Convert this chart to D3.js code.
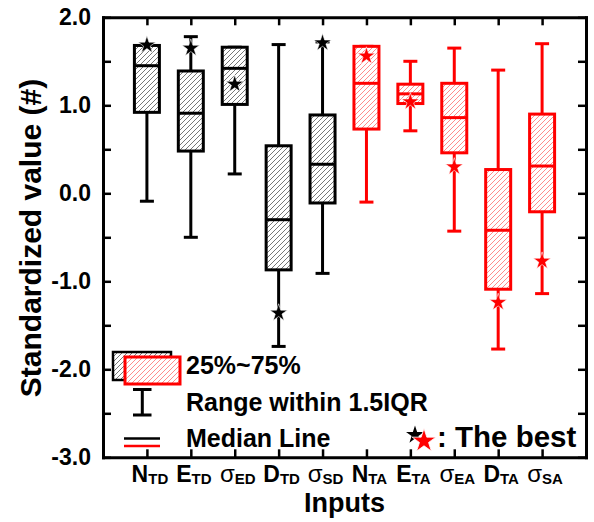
<!DOCTYPE html>
<html>
<head>
<meta charset="utf-8">
<script src="https://cdn.jsdelivr.net/npm/d3@7"></script>
<style>
  body { margin: 0; background: #fff; }
  svg { display: block; font-family: "Liberation Sans", Arial, sans-serif; }
</style>
</head>
<body>
<div id="root"></div>
<script>
// inputs on the x axis: main letter + subscript
const mains = ['N', 'E', 'σ', 'D', 'σ', 'N', 'E', 'σ', 'D', 'σ'];
const subs = ['TD', 'TD', 'ED', 'TD', 'SD', 'TA', 'TA', 'EA', 'TA', 'SA'];
// first five are black (TD), last five red (TA)
const groups = ['TD', 'TD', 'TD', 'TD', 'TD', 'TA', 'TA', 'TA', 'TA', 'TA'];

// box plot statistics
const whiskerLow = [-0.09, -0.50, 0.22, -1.74, -0.91, -0.10, 0.71, -0.43, -1.77, -1.14];
const q1 = [0.92, 0.48, 1.01, -0.87, -0.11, 0.73, 1.02, 0.46, -1.09, -0.21];
const median = [1.45, 0.91, 1.42, -0.30, 0.33, 1.25, 1.13, 0.86, -0.42, 0.31];
const q3 = [1.68, 1.39, 1.66, 0.54, 0.89, 1.67, 1.24, 1.25, 0.27, 0.90];
const whiskerHigh = [1.68, 1.78, 1.66, 1.69, 1.72, 1.67, 1.50, 1.65, 1.40, 1.70];
const best = [1.685, 1.65, 1.24, -1.36, 1.71, 1.56, 1.04, 0.30, -1.24, -0.77];

const yTicks = [-3, -2.5, -2, -1.5, -1, -0.5, 0, 0.5, 1, 1.5, 2];

const width = 594;
const height = 522;
const margin = { top: 17.3, right: 8, bottom: 64.7, left: 103 };

const colors = { TD: '#000', TA: '#ff0000' };

const data = mains.map((m, i) => ({
  main: m,
  sub: subs[i],
  group: groups[i],
  low: whiskerLow[i],
  q1: q1[i],
  median: median[i],
  q3: q3[i],
  high: whiskerHigh[i],
  best: best[i],
  pos: i + 1,
}));

const svg = d3.select('#root')
  .append('svg')
  .attr('width', width)
  .attr('height', height);

const defs = svg.append('defs');
function hatch(id, color) {
  const p = defs.append('pattern')
    .attr('id', id)
    .attr('patternUnits', 'userSpaceOnUse')
    .attr('width', 5)
    .attr('height', 5);
  p.append('rect').attr('width', 5).attr('height', 5).attr('fill', '#fff');
  p.append('path')
    .attr('d', 'M-1,1 l2,-2 M0,5 l5,-5 M4,6 l2,-2')
    .attr('stroke', color)
    .attr('stroke-width', 1);
}
hatch('hatch-TD', '#777');
hatch('hatch-TA', '#ff8c8c');

const x = d3.scaleLinear().domain([0, 11]).range([margin.left, width - margin.right]);
const y = d3.scaleLinear().domain([-3, 2]).range([height - margin.bottom, margin.top]);

const boxW = 25;
const capW = 14;

// whiskers
const boxes = svg.append('g')
  .selectAll('g.box')
  .data(data)
  .join('g')
  .attr('class', 'box');

boxes.append('line')
  .attr('x1', d => x(d.pos)).attr('x2', d => x(d.pos))
  .attr('y1', d => y(d.low)).attr('y2', d => y(d.high))
  .attr('stroke', d => colors[d.group])
  .attr('stroke-width', 3);

boxes.selectAll('line.cap')
  .data(d => [{ v: d.low, d }, { v: d.high, d }])
  .join('line')
  .attr('class', 'cap')
  .attr('x1', c => x(c.d.pos) - capW / 2).attr('x2', c => x(c.d.pos) + capW / 2)
  .attr('y1', c => y(c.v)).attr('y2', c => y(c.v))
  .attr('stroke', c => colors[c.d.group])
  .attr('stroke-width', 3);

boxes.append('rect')
  .attr('x', d => x(d.pos) - boxW / 2)
  .attr('width', boxW)
  .attr('y', d => y(d.q3))
  .attr('height', d => y(d.q1) - y(d.q3))
  .attr('fill', d => `url(#hatch-${d.group})`)
  .attr('stroke', d => colors[d.group])
  .attr('stroke-width', 3);

boxes.append('line')
  .attr('x1', d => x(d.pos) - boxW / 2).attr('x2', d => x(d.pos) + boxW / 2)
  .attr('y1', d => y(d.median)).attr('y2', d => y(d.median))
  .attr('stroke', d => colors[d.group])
  .attr('stroke-width', 3);

const star = d3.symbol().type(d3.symbolStar);

boxes.append('path')
  .attr('d', star.size(95)())
  .attr('transform', d => `translate(${x(d.pos)},${y(d.best)})`)
  .attr('fill', d => colors[d.group])
  .attr('stroke', '#fff')
  .attr('stroke-width', 0.6);

// axes frame, ticks pointing inward
const axisStyle = g => {
  g.select('.domain').attr('stroke-width', 3).attr('stroke-linecap', 'square');
  g.selectAll('.tick line').attr('stroke-width', 2.5);
  g.selectAll('.tick text')
    .attr('font-size', 23)
    .attr('font-weight', 'bold')
    .attr('fill', '#000');
};

svg.append('g')
  .attr('transform', `translate(${margin.left},0)`)
  .call(d3.axisLeft(y).tickValues(yTicks).tickSize(-8).tickSizeOuter(0).tickPadding(12)
    .tickFormat(v => (Number.isInteger(v) ? v.toFixed(1) : '')))
  .call(axisStyle);

svg.append('g')
  .attr('transform', `translate(${width - margin.right},0)`)
  .call(d3.axisRight(y).tickValues(yTicks).tickSize(-8).tickSizeOuter(0).tickFormat(''))
  .call(axisStyle);

svg.append('g')
  .attr('transform', `translate(0,${margin.top})`)
  .call(d3.axisTop(x).tickValues(data.map(d => d.pos)).tickSize(-8).tickSizeOuter(0).tickFormat(''))
  .call(axisStyle);

svg.append('g')
  .attr('transform', `translate(0,${height - margin.bottom})`)
  .call(d3.axisBottom(x).tickValues(data.map(d => d.pos)).tickSize(-8).tickSizeOuter(0).tickFormat(''))
  .call(axisStyle);

// category labels with subscripts
const xl = svg.append('g')
  .selectAll('text')
  .data(data)
  .join('text')
  .attr('x', d => x(d.pos) + 3)
  .attr('y', 482)
  .attr('text-anchor', 'middle')
  .attr('fill', '#000');
xl.append('tspan')
  .attr('font-size', d => (d.main === 'σ' ? 24 : 23))
  .attr('font-weight', d => (d.main === 'σ' ? 'normal' : 'bold'))
  .text(d => d.main);
xl.append('tspan')
  .attr('font-size', 15)
  .attr('font-weight', 'bold')
  .attr('dy', 2)
  .text(d => d.sub);

svg.append('text')
  .attr('x', (margin.left + width - margin.right) / 2)
  .attr('y', 512)
  .attr('text-anchor', 'middle')
  .attr('font-size', 27)
  .attr('font-weight', 'bold')
  .text('Inputs');

svg.append('text')
  .attr('transform', 'translate(41,238) rotate(-90)')
  .attr('text-anchor', 'middle')
  .attr('font-size', 30)
  .attr('font-weight', 'bold')
  .text('Standardized value (#)');

// legend
const legend = svg.append('g');
legend.append('rect')
  .attr('x', 113).attr('y', 352).attr('width', 58).attr('height', 28)
  .attr('fill', 'url(#hatch-TD)').attr('stroke', '#000').attr('stroke-width', 2.5);
legend.append('rect')
  .attr('x', 125).attr('y', 357).attr('width', 55).attr('height', 27)
  .attr('fill', 'url(#hatch-TA)').attr('stroke', colors.TA).attr('stroke-width', 3);
legend.append('text')
  .attr('x', 186).attr('y', 374)
  .attr('font-size', 25).attr('font-weight', 'bold')
  .text('25%~75%');

legend.append('path')
  .attr('d', 'M133,389.5 H151.5 M142.3,389.5 V415 M133,415 H151.5')
  .attr('fill', 'none').attr('stroke', '#000').attr('stroke-width', 3);
legend.append('text')
  .attr('x', 186).attr('y', 411)
  .attr('font-size', 25).attr('font-weight', 'bold')
  .text('Range within 1.5IQR');

legend.append('line')
  .attr('x1', 124).attr('x2', 160).attr('y1', 438.5).attr('y2', 438.5)
  .attr('stroke', '#000').attr('stroke-width', 2.5);
legend.append('line')
  .attr('x1', 124).attr('x2', 160).attr('y1', 446).attr('y2', 446)
  .attr('stroke', colors.TA).attr('stroke-width', 2.5);
legend.append('text')
  .attr('x', 186).attr('y', 447)
  .attr('font-size', 25).attr('font-weight', 'bold')
  .text('Median Line');

legend.append('path')
  .attr('d', star.size(100)())
  .attr('transform', 'translate(415,435)')
  .attr('fill', '#000');
legend.append('path')
  .attr('d', star.size(175)())
  .attr('transform', 'translate(424,441)')
  .attr('fill', colors.TA)
  .attr('stroke', '#fff').attr('stroke-width', 0.8);
legend.append('text')
  .attr('x', 437).attr('y', 447)
  .attr('font-size', 29.5).attr('font-weight', 'bold')
  .text(': The best');
</script>
</body>
</html>
